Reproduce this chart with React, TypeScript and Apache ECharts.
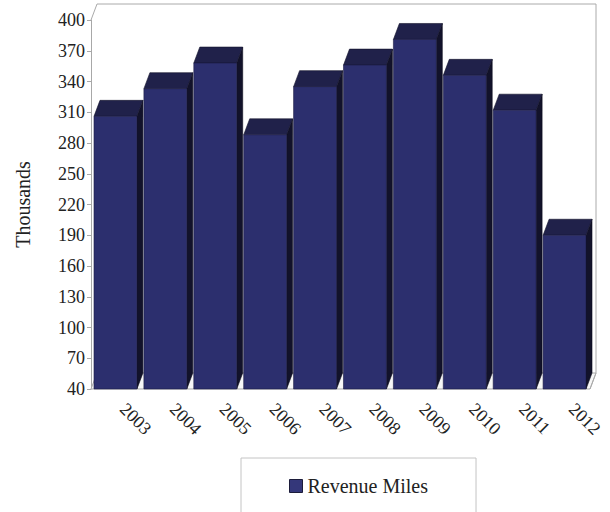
import React, { useEffect, useRef } from "react";
import * as echarts from "echarts";

const categories = ["2003", "2004", "2005", "2006", "2007", "2008", "2009", "2010", "2011", "2012"];
const revenueMiles = [306, 333, 358, 288, 335, 356, 381, 346, 312, 190];
const axisMin = 40;
const axisMax = 400;
const axisStep = 30;
const seriesName = "Revenue Miles";

const FONT = "Liberation Serif";
const DX = 6;
const DY = -16;

export default function App() {
  const ref = useRef<HTMLDivElement>(null);
  useEffect(() => {
    if (!ref.current) return;
    const chart = echarts.init(ref.current, null, { renderer: "svg" });
    const barData = revenueMiles.map((v, i) => [i, v - axisMin]);
    const option: any = {
      animation: false,
      backgroundColor: "#ffffff",
      textStyle: { fontFamily: FONT },
      grid: { left: 91, right: 20, top: 20, bottom: 123 },
      legend: {
        left: 241,
        top: 458,
        padding: [18, 48, 40, 48],
        itemWidth: 13,
        itemHeight: 13,
        borderColor: "#c4c4c4",
        borderWidth: 1,
        textStyle: { fontFamily: FONT, fontSize: 20, color: "#222" },
        data: [
          {
            name: seriesName,
            icon: "rect",
            itemStyle: { color: "#34377a", borderColor: "#1c1c3a", borderWidth: 1 },
          },
        ],
      },
      xAxis: {
        type: "category",
        data: categories,
        axisLine: { show: false },
        axisTick: { show: false },
        axisLabel: {
          rotate: -45,
          margin: 10,
          padding: [0, 0, 0, 10],
          fontFamily: FONT,
          fontSize: 18,
          color: "#222",
        },
      },
      yAxis: {
        type: "value",
        min: 0,
        max: axisMax - axisMin,
        interval: axisStep,
        name: "Thousands",
        nameLocation: "middle",
        nameRotate: 90,
        nameGap: 58,
        nameTextStyle: { fontFamily: FONT, fontSize: 20, color: "#222" },
        axisLine: { show: true, lineStyle: { color: "#a8a8a8", width: 1 } },
        axisTick: { show: true, length: 4, lineStyle: { color: "#a8a8a8" } },
        splitLine: { show: false },
        axisLabel: {
          margin: 6,
          fontFamily: FONT,
          fontSize: 18,
          color: "#222",
          formatter: (v: number) => String(v + axisMin),
        },
      },
      series: [
        {
          type: "custom",
          name: "frame",
          silent: true,
          clip: false,
          z: 1,
          data: [[0, 0]],
          renderItem: (params: any, api: any) => {
            const bw = api.size([1, 0])[0];
            const left = api.coord([0, 0])[0] - bw / 2;
            const right = api.coord([categories.length - 1, 0])[0] + bw / 2;
            const yb = api.coord([0, 0])[1];
            const yt = api.coord([0, axisMax - axisMin])[1];
            return {
              type: "group",
              children: [
                {
                  type: "polygon",
                  shape: {
                    points: [
                      [left, yb],
                      [left + DX, yb + DY],
                      [right + DX, yb + DY],
                      [right, yb],
                    ],
                  },
                  style: { fill: "#f7f7f7", stroke: "#aaaaaa", lineWidth: 1 },
                },
                {
                  type: "polyline",
                  shape: {
                    points: [
                      [left, yt],
                      [left + DX, yt + DY],
                      [right + DX, yt + DY],
                      [right + DX, yb + DY],
                      [right, yb],
                    ],
                  },
                  style: { stroke: "#aaaaaa", lineWidth: 1, fill: null },
                },
              ],
            };
          },
        },
        {
          type: "custom",
          name: seriesName,
          clip: false,
          z: 2,
          itemStyle: { color: "#2c2f6e" },
          data: barData,
          renderItem: (params: any, api: any) => {
            const idx = api.value(0);
            const v = api.value(1);
            const top = api.coord([idx, v]);
            const base = api.coord([idx, 0]);
            const bw = api.size([1, 0])[0];
            const w = bw * 0.86;
            const x0 = top[0] - w / 2 - 0.5;
            const ty = top[1];
            const by = base[1];
            return {
              type: "group",
              children: [
                {
                  type: "polygon",
                  shape: {
                    points: [
                      [x0 + w, ty],
                      [x0 + w + DX, ty + DY],
                      [x0 + w + DX, by + DY],
                      [x0 + w, by],
                    ],
                  },
                  style: { fill: "#12122a", stroke: "#0c0c1c", lineWidth: 0.6 },
                },
                {
                  type: "polygon",
                  shape: {
                    points: [
                      [x0, ty],
                      [x0 + DX, ty + DY],
                      [x0 + w + DX, ty + DY],
                      [x0 + w, ty],
                    ],
                  },
                  style: { fill: "#20214a", stroke: "#12122a", lineWidth: 0.6 },
                },
                {
                  type: "rect",
                  shape: { x: x0, y: ty, width: w, height: by - ty },
                  style: { fill: "#2c2f6e", stroke: "#1c1d44", lineWidth: 0.6 },
                },
              ],
            };
          },
        },
      ],
    };
    chart.setOption(option);
    return () => chart.dispose();
  }, []);
  return (
    <div
      ref={ref}
      style={{ position: "fixed", left: 0, top: 0, width: 610, height: 512, background: "#fff" }}
    />
  );
}
